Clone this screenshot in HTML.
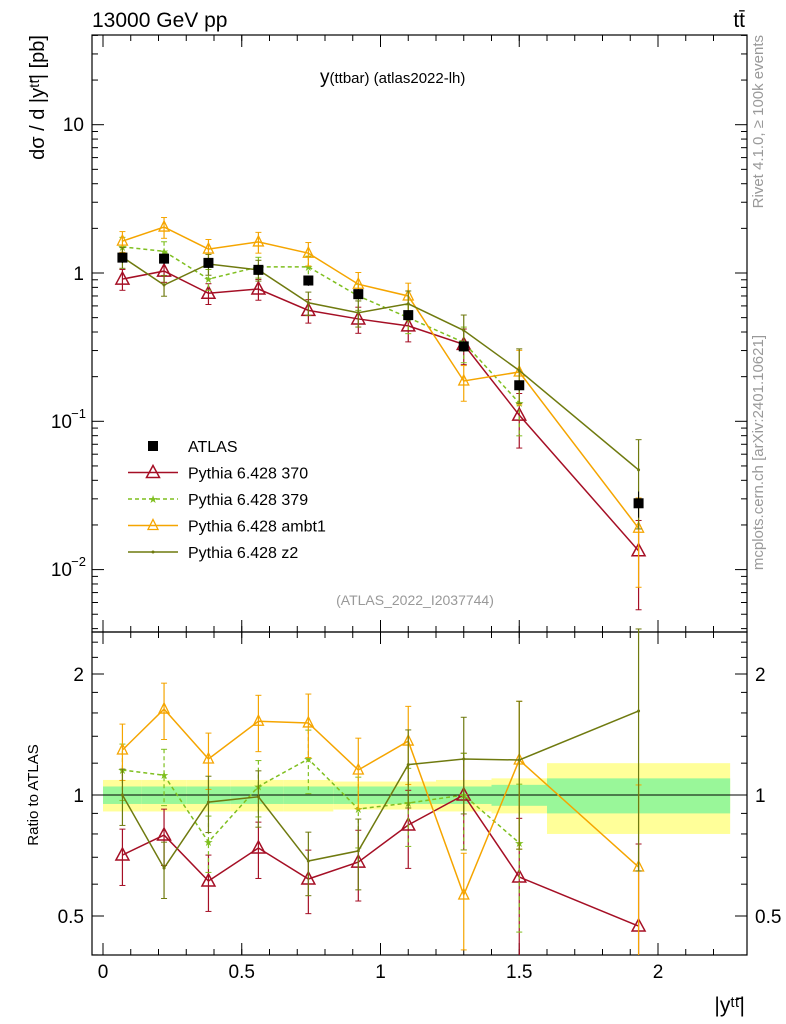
<!DOCTYPE html>
<html><head><meta charset="utf-8"><style>
body{margin:0;background:#fff;}
svg{display:block;font-family:"Liberation Sans",sans-serif;}
</style></head><body>
<svg id="c" width="786" height="1024" viewBox="0 0 786 1024"></svg>
<script>
const xs=[0.07,0.22,0.38,0.56,0.74,0.92,1.1,1.3,1.5,1.93];
const edges=[0,0.14,0.3,0.46,0.65,0.83,1.0,1.2,1.4,1.6,2.26];
const atlas=[1.27,1.25,1.17,1.05,0.89,0.72,0.52,0.32,0.175,0.028];
const atlasErr=[0.08,0.08,0.08,0.08,0.08,0.08,0.08,0.08,0.08,0.2];
const p370=[0.91,1.03,0.73,0.78,0.56,0.49,0.44,0.33,0.11,0.0134];
const p379=[1.5,1.4,0.91,1.1,1.1,0.7,0.5,0.34,0.133,null];
const pambt1=[1.64,2.04,1.45,1.62,1.36,0.84,0.7,0.187,0.215,0.019];
const pz2=[1.28,0.83,1.15,1.05,0.63,0.54,0.62,0.41,0.22,0.047];
const mcErr=[0.16,0.16,0.16,0.16,0.18,0.2,0.22,0.27,0.4,0.6];
const r370=[0.709,0.795,0.611,0.738,0.618,0.681,0.842,1.0,0.625,0.472];
const r379=[1.154,1.12,0.764,1.05,1.229,0.923,0.955,1.0,0.76,null];
const rambt1=[1.294,1.636,1.229,1.526,1.511,1.154,1.362,0.564,1.222,0.662];
const rz2=[1.0,0.658,0.96,0.99,0.685,0.726,1.19,1.229,1.222,1.618];
const bandY=[0.09,0.09,0.09,0.09,0.09,0.08,0.08,0.09,0.1,0.2];
const bandG=[0.05,0.05,0.05,0.05,0.05,0.05,0.05,0.05,0.06,0.1];
const xTicks=[0,0.5,1,1.5,2];

const X=v=>103+v*277.5;
const Y=v=>273-148.3*Math.log10(v);
const R=v=>795-121*Math.log2(v);
const svg=document.getElementById('c');
const NS='http://www.w3.org/2000/svg';
function el(t,a,p){const e=document.createElementNS(NS,t);for(const k in a)e.setAttribute(k,a[k]);(p||svg).appendChild(e);return e;}
function txt(s,a,p){const e=el('text',a,p);e.textContent=s;return e;}

const gB=el('g',{});


for(let i=0;i<xs.length;i++){
  const x0=X(edges[i]),x1=X(edges[i+1]);
  el('rect',{x:x0,y:R(1+bandY[i]),width:x1-x0,height:R(1-bandY[i])-R(1+bandY[i]),fill:'#ffff99'},gB);
  el('rect',{x:x0,y:R(1+bandG[i]),width:x1-x0,height:R(1-bandG[i])-R(1+bandG[i]),fill:'#99f799'},gB);
}
el('line',{x1:92,x2:747,y1:R(1),y2:R(1),stroke:'#000','stroke-width':1});

el('rect',{x:92,y:35,width:655,height:597,fill:'none',stroke:'#000','stroke-width':1.2,});
el('rect',{x:92,y:632,width:655,height:323,fill:'none',stroke:'#000','stroke-width':1.2,});

for(const t of xTicks){
  const x=X(t);
  for(const [a,b] of [[632,620],[35,47],[955,943],[632,644]]) el('line',{x1:x,x2:x,y1:a,y2:b,stroke:'#000'});
  const l=txt(String(t),{x:x,y:978,'font-size':19,'text-anchor':'middle'});
  
  
}
for(let v=0.1;v<2.3;v+=0.1){const x=X(v);for(const [a,b] of [[632,626],[35,41],[955,949],[632,638]]) el('line',{x1:x,x2:x,y1:a,y2:b,stroke:'#000'});}
for(let d=-3;d<=1;d++){for(let m=1;m<10;m++){const v=m*Math.pow(10,d);const y=Y(v);if(y<35||y>632)continue;const L=m==1?12:6;
 el('line',{x1:92,x2:92+L,y1:y,y2:y,stroke:'#000'});el('line',{x1:747,x2:747-L,y1:y,y2:y,stroke:'#000'});}}
txt('10',{x:84,y:131,'font-size':19,'text-anchor':'end'});
txt('1',{x:84,y:280,'font-size':19,'text-anchor':'end'});
txt('10',{x:72,y:428,'font-size':19,'text-anchor':'end'});txt('−1',{x:86,y:418,'font-size':13,'text-anchor':'end'});
txt('10',{x:72,y:576,'font-size':19,'text-anchor':'end'});txt('−2',{x:86,y:566,'font-size':13,'text-anchor':'end'});
for(const v of [0.4,0.5,0.6,0.7,0.8,0.9,1,1.2,1.4,1.6,1.8,2,2.2,2.4]){const y=R(v);if(y<632||y>955)continue;const L=(v==0.5||v==1||v==2)?12:6;
 el('line',{x1:92,x2:92+L,y1:y,y2:y,stroke:'#000'});el('line',{x1:747,x2:747-L,y1:y,y2:y,stroke:'#000'});}
for(const [v,s] of [[2,'2'],[1,'1'],[0.5,'0.5']]){txt(s,{x:84,y:R(v)+7,'font-size':19,'text-anchor':'end'});txt(s,{x:755,y:R(v)+7,'font-size':19});}

txt('13000 GeV pp',{x:92,y:27,'font-size':21,});
txt('tt̄',{x:745,y:27,'font-size':21,'text-anchor':'end',});
const tt=txt('y',{x:320,y:83,'font-size':19,});
const ts=el('tspan',{'font-size':15},tt);ts.textContent='(ttbar) (atlas2022-lh)';
txt('(ATLAS_2022_I2037744)',{x:415,y:605,'font-size':14,fill:'#999','text-anchor':'middle',});
txt('dσ / d |yᵗᵗ̄| [pb]',{x:0,y:0,'font-size':20,'text-anchor':'end',transform:'translate(44,35) rotate(-90)',});
txt('Ratio to ATLAS',{x:0,y:0,'font-size':15,'text-anchor':'middle',transform:'translate(38,795) rotate(-90)',});
txt('|yᵗᵗ̄|',{x:745,y:1012,'font-size':21,'text-anchor':'end',});
txt('Rivet 4.1.0, ≥ 100k events',{x:0,y:0,'font-size':15,fill:'#999','text-anchor':'end',transform:'translate(763,35) rotate(-90)',});
txt('mcplots.cern.ch [arXiv:2401.10621]',{x:0,y:0,'font-size':15,fill:'#999','text-anchor':'end',transform:'translate(763,335) rotate(-90)',});

function marker(kind,x,y,col,p){
  if(kind=='tri') el('path',{d:`M${x},${y-7}L${x+6.5},${y+5}L${x-6.5},${y+5}Z`,fill:'none',stroke:col,'stroke-width':1.5},p);
  else if(kind=='tris') el('path',{d:`M${x},${y-6}L${x+5},${y+4}L${x-5},${y+4}Z`,fill:'none',stroke:col,'stroke-width':1.3},p);
  else if(kind=='star') txt('★',{x:x,y:y+4,'font-size':11,fill:col,'text-anchor':'middle'},p);
  else if(kind=='dot') el('circle',{cx:x,cy:y,r:1.5,fill:col},p);
  else if(kind=='sq') el('rect',{x:x-5,y:y-5,width:10,height:10,fill:'#000'},p);
}
function series(name,vals,col,kind,dash,yf,errs){
  const g=el('g',{});
  
  
  let d='';
  vals.forEach((v,i)=>{if(v==null)return;const x=X(xs[i]),y=yf(v);d+=(d?'L':'M')+x+','+y;
    const e=errs[i];const y1=yf(v*(1+e)),y2=yf(Math.max(v*(1-e),1e-9));
    el('line',{x1:x,x2:x,y1:y1,y2:Math.min(y2,yf==R?955:632),stroke:col,'stroke-width':1.2,'stroke-dasharray':dash||''},g);
    el('line',{x1:x-3,x2:x+3,y1:y1,y2:y1,stroke:col},g);
    if(y2<632||(yf==R&&y2<955))el('line',{x1:x-3,x2:x+3,y1:y2,y2:y2,stroke:col},g);
  });
  el('path',{d:d,fill:'none',stroke:col,'stroke-width':1.5,'stroke-dasharray':dash||''},g);
  vals.forEach((v,i)=>{if(v==null)return;marker(kind,X(xs[i]),yf(v),col,g);});
}
const C370='#a50f25',C379='#7fbf1f',Cam='#f5a500',Cz2='#6f7a0f';
series('pythia-370-main',p370,C370,'tri','',Y,mcErr);
series('pythia-379-main',p379,C379,'star','4,3',Y,mcErr);
series('pythia-ambt1-main',pambt1,Cam,'tris','',Y,mcErr);
series('pythia-z2-main',pz2,Cz2,'dot','',Y,mcErr);
const ga=el('g',{});


atlas.forEach((v,i)=>{const x=X(xs[i]);el('line',{x1:x,x2:x,y1:Y(v*(1+atlasErr[i])),y2:Y(v*(1-atlasErr[i])),stroke:'#000'},ga);marker('sq',x,Y(v),'#000',ga);});
series('pythia-370-ratio',r370,C370,'tri','',R,mcErr);
series('pythia-379-ratio',r379,C379,'star','4,3',R,mcErr);
series('pythia-ambt1-ratio',rambt1,Cam,'tris','',R,mcErr);
series('pythia-z2-ratio',rz2,Cz2,'dot','',R,mcErr);

const leg=[['ATLAS','#000','sq',''],['Pythia 6.428 370',C370,'tri',''],['Pythia 6.428 379',C379,'star','4,3'],['Pythia 6.428 ambt1',Cam,'tris',''],['Pythia 6.428 z2',Cz2,'dot','']];
leg.forEach((l,i)=>{const g=el('g',{});
  
  
  const y=446+i*26.5;
  if(i>0)el('line',{x1:128,x2:178,y1:y,y2:y,stroke:l[1],'stroke-width':1.5,'stroke-dasharray':l[3]},g);
  marker(l[2],153,y,l[1],g);
  txt(l[0],{x:188,y:y+6,'font-size':16},g);});
</script>
</body></html>
